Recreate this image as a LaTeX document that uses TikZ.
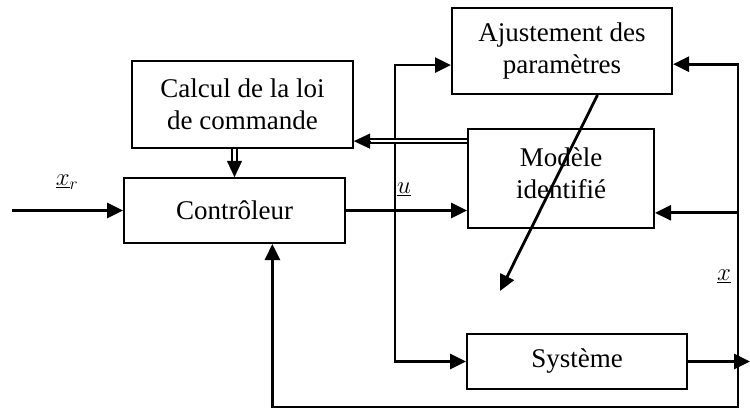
\documentclass[tikz,border=0pt]{standalone}
\usepackage{fontspec}
\setmainfont{Liberation Serif}
\usetikzlibrary{arrows.meta,calc}
\begin{document}
\begin{tikzpicture}[x=1pt,y=-1pt,
  blk/.style={draw, line width=2pt, align=center, inner sep=0pt,
    font=\fontsize{27}{32}\selectfont},
  sig/.style={line width=2.8pt, -{Triangle[length=16pt,width=15pt]}},
  dbl/.style={line width=1.8pt, double, double distance=2.6pt},
  tip/.style={line width=0.1pt, -{Triangle[length=16pt,width=15pt]}},
  lbl/.style={font=\fontsize{27}{32}\selectfont, inner sep=0pt}]
\useasboundingbox (0,0) rectangle (750,409);

% blocks
\node[blk, minimum width=221pt, minimum height=65pt] (ctrl) at (234.5,210.5) {Contrôleur};
\node[blk, minimum width=221pt, minimum height=87pt] (calc) at (242.5,104.5) {Calcul de la loi\\de commande};
\node[blk, minimum width=220pt, minimum height=86pt] (adj) at (562,51) {Ajustement des\\paramètres};
\node[blk, minimum width=186pt, minimum height=99pt, text depth=10pt] (model) at (561,178.5) {Modèle\\identifié};
\node[blk, minimum width=220pt, minimum height=55pt] (sys) at (577,361.5) {Système};

% attachment points
\coordinate (in) at (12,210.5);
\coordinate (out) at (750,361.5);
\coordinate (ub) at ($(ctrl.east)+(49,0)$);
\coordinate (xb) at (738,361.5);
\coordinate (xbot) at (738,407);
\coordinate (adjW) at ($(adj.north west)!0.66!(adj.south west)$);
\coordinate (adjE) at ($(adj.north east)!0.65!(adj.south east)$);
\coordinate (adjS) at ($(adj.south west)!0.66!(adj.south east)$);
\coordinate (modW) at ($(model.north west)!0.13!(model.south west)$);
\coordinate (modE) at ($(model.north east)!0.84!(model.south east)$);
\coordinate (ctrlS) at ($(ctrl.south west)!0.67!(ctrl.south east)$);
\coordinate (adjtarget) at (500,291);

% reference input and command
\draw[sig] (in) -- (ctrl.west);
\draw[sig] (ctrl.east) -- (ctrl.east -| model.west);
\draw[sig] (ub) |- (adjW);
\draw[sig] (ub) |- (sys.west);

% double links
\draw[dbl] (calc.south -| ctrl.north) -- ([yshift=14pt]ctrl.north);
\draw[tip] ([yshift=16pt]ctrl.north) -- (ctrl.north);
\draw[dbl] (modW) -- ([xshift=14pt]calc.east |- modW);
\draw[tip] ([xshift=16pt]calc.east |- modW) -- (calc.east |- modW);

% system output and measured state feedback
\draw[sig] (sys.east) -- (out);
\draw[sig] (xb) |- (adjE);
\draw[sig] (xb) |- (modE);
\draw[sig] (xb) -- (xbot) -| (ctrlS);

% parameter update acting on the model
\draw[sig] (adjS) -- (adjtarget);

% signal labels
\node[lbl] (lxr) at (67,182) {$\underline{x}_r$};
\node[lbl] (lu) at (404,189) {$\underline{u}$};
\node[lbl] (lx) at (724,276) {$\underline{x}$};
\end{tikzpicture}
\end{document}
